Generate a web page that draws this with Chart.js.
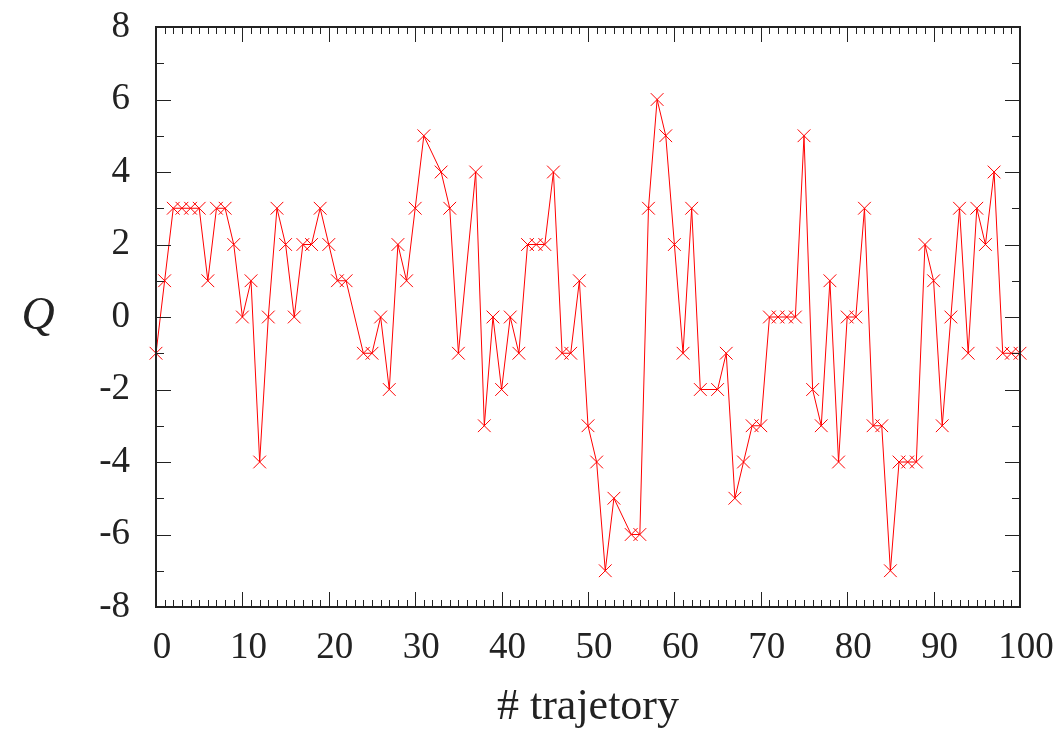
<!DOCTYPE html>
<html>
<head>
<meta charset="utf-8">
<title>Q per trajectory</title>
<script src="https://cdn.jsdelivr.net/npm/chart.js@4.4.1/dist/chart.umd.min.js"></script>
<style>
    html, body { margin: 0; padding: 0; background: #fff; }
    canvas { display: block; }
</style>
</head>
<body>
<canvas id="qChart" width="1064" height="736"></canvas>
<script>
// ===== Data =====
const trajectories = [
    0, 1, 2, 3, 4, 5, 6, 7, 8, 9, 10, 11, 12, 13, 14, 15, 16, 17, 18, 19, 20, 21, 22,
    24, 25, 26, 27, 28, 29, 30, 31,
    33, 34, 35,
    37, 38, 39, 40, 41, 42, 43, 44, 45, 46, 47, 48, 49, 50, 51, 52, 53,
    55, 56, 57, 58, 59, 60, 61, 62, 63,
    65, 66, 67, 68, 69, 70, 71, 72, 73, 74, 75, 76, 77, 78, 79, 80, 81, 82, 83, 84,
    85, 86, 87, 88, 89, 90, 91, 92, 93, 94, 95, 96, 97, 98, 99, 100
];

const qValues = [
    -1, 1, 3, 3, 3, 3, 1, 3, 3, 2, 0, 1, -4, 0, 3, 2, 0, 2, 2, 3, 2, 1, 1,
    -1, -1, 0, -2, 2, 1, 3, 5,
    4, 3, -1,
    4, -3, 0, -2, 0, -1, 2, 2, 2, 4, -1, -1, 1, -3, -4, -7, -5,
    -6, -6, 3, 6, 5, 2, -1, 3, -2,
    -2, -1, -5, -4, -3, -3, 0, 0, 0, 0, 5, -2, -3, 1, -4, 0, 0, 3, -3, -3,
    -7, -4, -4, -4, 2, 1, -3, 0, 3, -1, 3, 2, 4, -1, -1, -1
];

const xTickLabels = [0, 10, 20, 30, 40, 50, 60, 70, 80, 90, 100];
const yTickLabels = [-8, -6, -4, -2, 0, 2, 4, 6, 8];

const FONT = "'Liberation Serif', 'DejaVu Serif', serif";
const INK = "#222";

// ===============================
// FRAME + INWARD TICKS
// ===============================
const frameTicks = {
    id: "frameTicks",
    afterDraw(chart) {
        const { ctx, chartArea: a, scales } = chart;
        const x = scales.x;
        const y = scales.y;

        ctx.save();
        ctx.strokeStyle = INK;
        ctx.lineWidth = 1;
        ctx.beginPath();

        // x: minor every 1, major every 10 (top and bottom)
        for (let v = 0; v <= 100; v++) {
            const px = Math.round(x.getPixelForValue(v)) + 0.5;
            const len = v % 10 === 0 ? 15 : 7;
            ctx.moveTo(px, a.bottom);
            ctx.lineTo(px, a.bottom - len);
            ctx.moveTo(px, a.top);
            ctx.lineTo(px, a.top + len);
        }

        // y: minor every 1, major every 2 (left and right)
        for (let v = -8; v <= 8; v++) {
            const py = Math.round(y.getPixelForValue(v)) + 0.5;
            const len = v % 2 === 0 ? 15 : 8;
            ctx.moveTo(a.left, py);
            ctx.lineTo(a.left + len, py);
            ctx.moveTo(a.right, py);
            ctx.lineTo(a.right - len, py);
        }
        ctx.stroke();

        ctx.lineWidth = 2;
        ctx.strokeRect(a.left, a.top, a.right - a.left, a.bottom - a.top);

        // upright italic Q as the y title
        ctx.fillStyle = INK;
        ctx.font = "italic 46px " + FONT;
        ctx.textAlign = "center";
        ctx.textBaseline = "middle";
        ctx.fillText("Q", 38, (a.top + a.bottom) / 2);
        ctx.restore();
    }
};

// ===============================
// CHART
// ===============================
const points = trajectories.map((t, i) => ({ x: t, y: qValues[i] }));

new Chart(document.getElementById("qChart"), {
    type: "scatter",
    data: {
        datasets: [{
            data: points,
            showLine: true,
            borderColor: "#ff0000",
            borderWidth: 1,
            pointStyle: "crossRot",
            pointRadius: 9,
            pointHoverRadius: 9,
            pointBorderColor: "#ff0000",
            pointBorderWidth: 1,
            tension: 0,
            clip: false
        }]
    },
    options: {
        responsive: false,
        animation: false,
        devicePixelRatio: 1,
        layout: { padding: { top: 27, right: 44, left: 0, bottom: 0 } },
        plugins: {
            legend: { display: false },
            tooltip: { enabled: false }
        },
        scales: {
            x: {
                type: "linear",
                min: 0,
                max: 100,
                afterFit(scale) {
                    scale.height = 129;
                    scale.paddingLeft = 0;
                    scale.paddingRight = 0;
                },
                afterBuildTicks(scale) {
                    scale.ticks = xTickLabels.map(v => ({ value: v }));
                },
                grid: { display: false, drawTicks: false },
                border: { display: false },
                ticks: {
                    font: { family: FONT, size: 37 },
                    color: INK,
                    padding: 19,
                    labelOffset: 6,
                    maxRotation: 0
                },
                title: {
                    display: true,
                    text: "# trajetory",
                    font: { family: FONT, size: 44 },
                    color: INK,
                    padding: { top: 0, bottom: 2 }
                }
            },
            y: {
                min: -8,
                max: 8,
                afterFit(scale) {
                    scale.width = 156;
                    scale.paddingTop = 0;
                    scale.paddingBottom = 0;
                },
                afterBuildTicks(scale) {
                    scale.ticks = yTickLabels.map(v => ({ value: v }));
                },
                grid: { display: false, drawTicks: false },
                border: { display: false },
                ticks: {
                    font: { family: FONT, size: 37 },
                    color: INK,
                    padding: 26
                }
            }
        }
    },
    plugins: [frameTicks]
});
</script>
</body>
</html>
